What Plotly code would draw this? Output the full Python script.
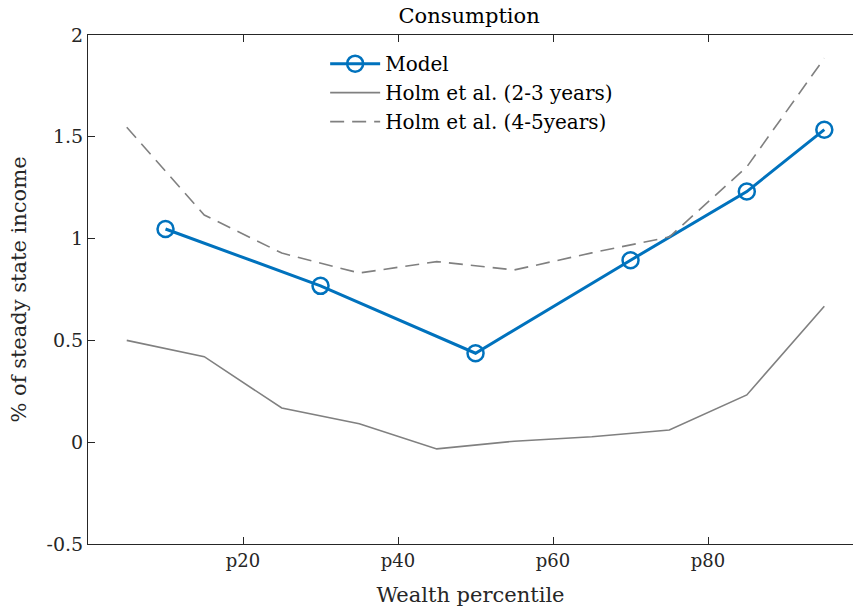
import plotly.graph_objects as go

# Data
model_x = [10, 30, 50, 70, 85, 95]
model_y = [1.047, 0.768, 0.437, 0.894, 1.231, 1.535]

holm_x = [5, 15, 25, 35, 45, 55, 65, 75, 85, 95]
holm23_y = [0.50, 0.42, 0.168, 0.091, -0.033, 0.005, 0.027, 0.06, 0.232, 0.668]
holm45_y = [1.547, 1.116, 0.929, 0.831, 0.887, 0.846, 0.93, 1.008, 1.352, 1.886]

x_tickvals = [20, 40, 60, 80]
x_ticktext = ["p20", "p40", "p60", "p80"]
y_tickvals = [-0.5, 0, 0.5, 1, 1.5, 2]
y_ticktext = ["-0.5", "0", "0.5", "1", "1.5", "2"]

FONT = "DejaVu Serif"
AX = "#262626"
GRAY = "#808080"
BLUE = "#0072BD"

fig = go.Figure()
fig.add_trace(go.Scatter(
    x=model_x, y=model_y, name="Model", mode="lines+markers",
    line=dict(color=BLUE, width=3),
    marker=dict(symbol="circle-open", size=16, color=BLUE, line=dict(width=2.5, color=BLUE)),
    legendgroup="a"))
fig.add_trace(go.Scatter(
    x=holm_x, y=holm23_y, name="Holm et al. (2-3 years)", mode="lines",
    line=dict(color=GRAY, width=1.6), legendgroup="b"))
fig.add_trace(go.Scatter(
    x=holm_x, y=holm45_y, name="Holm et al. (4-5years)", mode="lines",
    line=dict(color=GRAY, width=1.6, dash="14px,8px"), legendgroup="c"))

fig.update_layout(
    width=853, height=609,
    margin=dict(l=88, r=0, t=35, b=65),
    paper_bgcolor="white", plot_bgcolor="white",
    font=dict(family=FONT, size=19, color=AX),
    title=dict(text="Consumption", x=0.55, xanchor="center", y=0.975, yanchor="middle",
               font=dict(family=FONT, size=21, color="#000000")),
    showlegend=True,
    legend=dict(x=0.31, y=0.982, xanchor="left", yanchor="top",
                bgcolor="rgba(0,0,0,0)", borderwidth=0,
                font=dict(family=FONT, size=20, color="#000000"),
                tracegroupgap=0, itemwidth=50),
    xaxis=dict(range=[0, 98.7], tickvals=x_tickvals, ticktext=x_ticktext,
               ticks="inside", ticklen=7, tickcolor=AX, tickwidth=1,
               showline=True, linecolor=AX, linewidth=1, mirror="ticks",
               showgrid=False, zeroline=False,
               tickfont=dict(family=FONT, size=18, color=AX),
               title=dict(text="Wealth percentile", standoff=17,
                          font=dict(family=FONT, size=21, color=AX))),
    yaxis=dict(range=[-0.5, 2], tickvals=y_tickvals, ticktext=y_ticktext,
               ticks="inside", ticklen=7, tickcolor=AX, tickwidth=1,
               showline=True, linecolor=AX, linewidth=1, mirror=False,
               showgrid=False, zeroline=False,
               tickfont=dict(family=FONT, size=19, color=AX),
               title=dict(text="% of steady state income", standoff=14,
                          font=dict(family=FONT, size=21, color=AX))),
)

fig.write_html("out.html")
